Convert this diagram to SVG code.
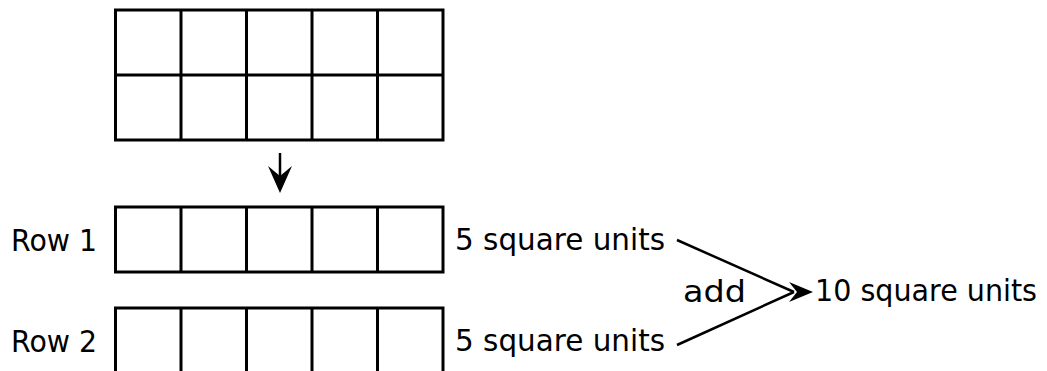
<svg xmlns="http://www.w3.org/2000/svg" width="1047" height="371" viewBox="0 0 1047 371">
<style>
.g{fill:none;stroke:#000;stroke-width:3}
.t{font-family:"DejaVu Sans","Liberation Sans",sans-serif;font-size:30px;fill:#000}
.c{fill:none;stroke:#000;stroke-width:2.5}
</style>
<rect width="1047" height="371" fill="#fff"/>
<g id="grid-top">
<rect class="g" x="115.5" y="10" width="327.5" height="130"/>
<path class="g" d="M181 10V140M246.5 10V140M312 10V140M377.5 10V140M115.5 75H443"/>
</g>
<g id="row1">
<rect class="g" x="115.5" y="207" width="327.5" height="65"/>
<path class="g" d="M181 207V272M246.5 207V272M312 207V272M377.5 207V272"/>
<text class="t" x="11" y="251" textLength="86" lengthAdjust="spacingAndGlyphs">Row 1</text>
</g>
<g id="row2">
<rect class="g" x="115.5" y="308" width="327.5" height="65"/>
<path class="g" d="M181 308V373M246.5 308V373M312 308V373M377.5 308V373"/>
<text class="t" x="11" y="352" textLength="86" lengthAdjust="spacingAndGlyphs">Row 2</text>
</g>
<g id="label1"><text class="t" x="455" y="250" textLength="210" lengthAdjust="spacingAndGlyphs">5 square units</text></g>
<g id="label2"><text class="t" x="455" y="351" textLength="210" lengthAdjust="spacingAndGlyphs">5 square units</text></g>
<g id="add"><text class="t" x="683" y="302" textLength="63" lengthAdjust="spacingAndGlyphs">add</text></g>
<g id="total"><text class="t" x="815" y="301" textLength="222" lengthAdjust="spacingAndGlyphs">10 square units</text></g>
<g id="connectors">
<path class="c" d="M280 153V180"/>
<polygon points="280,193 268,166 280,176 292,166" fill="#000"/>
<path class="c" d="M677 240L794 292M677 345L794 292"/>
<polygon points="813,292 789,282 797,292 789,302" fill="#000"/>
</g>
</svg>
